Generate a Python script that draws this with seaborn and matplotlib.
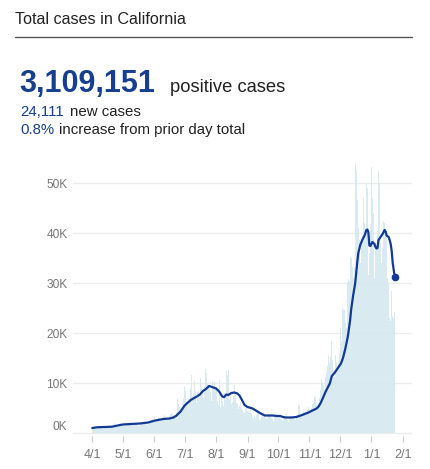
import numpy as np
import pandas as pd
import seaborn as sns
import matplotlib.pyplot as plt
from matplotlib.transforms import ScaledTranslation

# daily new cases (thousands), 2020-04-01 .. 2021-01-24
apr = [0.9, 1.2, 1.0, 1.3, 0.8, 1.1, 1.2, 1.2, 1.1, 1.4, 1.0, 0.9, 1.1, 1.3, 1.4,
       1.2, 1.1, 1.3, 1.0, 1.4, 1.5, 1.6, 2.0, 1.6, 1.2, 1.3, 1.5, 1.8, 1.6, 1.9]
may = [1.7, 1.8, 1.5, 1.4, 1.6, 2.1, 1.9, 2.2, 1.8, 1.6, 1.5, 1.7, 1.9, 2.0, 1.8, 1.6,
       1.5, 1.4, 1.9, 2.2, 2.1, 2.0, 2.3, 1.8, 1.7, 1.9, 2.4, 2.5, 2.6, 2.8, 2.4]
jun = [3.2, 2.5, 2.6, 2.8, 3.3, 3.0, 2.7, 2.5, 3.1, 3.3, 3.6, 2.9, 2.8, 2.6, 3.0,
       3.4, 3.8, 4.1, 3.9, 3.7, 3.2, 3.5, 4.3, 6.8, 5.9, 5.2, 4.8, 4.5, 5.8, 7.0]
jul = [9.4, 8.5, 6.4, 5.9, 5.4, 6.8, 9.0, 11.7, 7.5, 8.1, 10.4, 8.5, 6.0, 8.2, 8.4, 7.2,
       11.1, 9.2, 8.7, 7.1, 9.2, 12.8, 12.1, 10.0, 9.4, 8.3, 6.5, 10.4, 9.0, 10.2, 8.8]
aug = [9.2, 6.5, 5.6, 10.6, 5.2, 7.1, 6.4, 5.4, 8.0, 6.6, 12.5, 11.6, 12.7, 6.8, 8.0, 5.9,
       6.3, 7.5, 9.6, 7.8, 6.1, 5.8, 4.8, 5.5, 6.2, 5.1, 4.7, 4.3, 4.1, 5.0, 5.9]
sep = [4.4, 4.5, 4.0, 5.4, 4.0, 3.3, 2.8, 3.7, 3.1, 3.6, 4.2, 3.9, 2.6, 2.9, 3.2,
       3.6, 3.7, 3.4, 3.0, 2.8, 3.2, 3.9, 3.5, 3.4, 3.1, 2.9, 2.5, 3.6, 3.3, 3.5]
oct_ = [3.2, 3.4, 2.9, 2.8, 2.7, 3.1, 3.5, 3.3, 3.8, 2.6, 2.5, 3.0, 3.4, 3.2, 3.1, 3.0,
        2.8, 2.7, 3.2, 3.6, 5.8, 5.5, 3.9, 3.7, 4.0, 4.5, 4.2, 4.3, 3.9, 4.6, 5.2]
nov = [4.8, 4.6, 5.1, 5.9, 6.0, 7.5, 7.3, 5.6, 5.7, 6.1, 7.0, 8.7, 10.9, 10.0, 9.6,
       8.9, 11.2, 12.5, 13.5, 15.4, 14.1, 15.2, 18.4, 14.7, 12.5, 11.3, 15.6, 14.3, 13.0, 14.5]
dec = [16.1, 21.0, 18.4, 25.0, 24.6, 22.1, 21.0, 30.0, 30.9, 30.5, 35.5, 35.0, 33.2, 31.0,
       33.0, 54.0, 52.5, 46.6, 41.0, 38.6, 34.0, 38.7, 39.5, 47.1, 42.0, 40.5, 50.1, 49.0,
       31.7, 36.0, 41.9]
jan = [53.3, 47.0, 44.1, 31.0, 38.0, 37.5, 40.5, 52.5, 50.0, 38.0, 34.0, 37.0, 42.5, 42.0,
       41.0, 39.5, 31.0, 30.0, 23.0, 22.5, 28.5, 23.5, 23.0, 24.111]

# 7-day average (thousands), read at day offsets from 2020-04-01
avg_day = [0, 5, 12, 19, 25, 30, 38, 47, 55, 62, 70, 76, 80, 83, 87, 91, 97, 103, 106, 109,
           112, 115, 118, 122, 125, 128, 130, 132, 134, 137, 140, 143, 145, 148, 150, 153,
           158, 162, 166, 170, 175, 178, 182, 185, 188, 191, 196, 201, 204, 208, 213, 218,
           221, 223, 225, 227, 230, 234, 236, 239, 242, 245, 247, 249, 251, 252, 254, 255,
           257, 259, 261, 262, 264, 266, 268, 269, 270, 271, 272, 273, 274, 276, 278, 279,
           280, 281, 282, 284, 286, 288, 289, 290, 292, 293, 294, 295, 296, 298]
avg_val = [1.0, 1.15, 1.2, 1.25, 1.5, 1.7, 1.8, 1.9, 2.1, 2.5, 2.8, 2.9, 3.1, 3.5, 4.3, 5.5,
           6.6, 7.3, 7.7, 8.4, 8.8, 9.4, 9.2, 8.9, 8.3, 7.3, 7.2, 7.7, 7.6, 8.0, 8.1, 7.9,
           7.5, 6.4, 5.6, 5.2, 4.9, 4.4, 3.9, 3.5, 3.5, 3.5, 3.4, 3.4, 3.2, 3.1, 3.1, 3.2,
           3.4, 3.7, 4.1, 4.6, 4.9, 5.3, 6.0, 6.9, 8.3, 9.9, 11.4, 12.1, 13.0, 13.9, 15.0,
           16.6, 18.5, 19.6, 22.5, 24.6, 27.5, 29.9, 34.0, 35.9, 37.6, 38.6, 39.4, 39.9,
           40.6, 40.7, 40.2, 37.5, 37.4, 38.2, 37.8, 37.2, 36.9, 37.0, 38.6, 39.2, 39.8,
           40.6, 40.3, 39.5, 39.2, 38.6, 37.8, 36.4, 34.0, 31.2]

tick_labels = ['4/1', '5/1', '6/1', '7/1', '8/1', '9/1', '10/1', '11/1', '12/1', '1/1', '2/1']
y_ticks = [0, 10, 20, 30, 40, 50]

start = pd.Timestamp('2020-04-01')
daily = np.array(apr + may + jun + jul + aug + sep + oct_ + nov + dec + jan) * 1000
days = pd.date_range(start, periods=len(daily), freq='D')
avg = pd.DataFrame({'date': start + pd.to_timedelta(avg_day, unit='D'),
                    'cases': np.array(avg_val) * 1000})

blue = '#173f8f'
grey = '#777777'

sns.set_style('white')
plt.rcParams['font.family'] = ['Liberation Sans', 'DejaVu Sans']

fig = plt.figure(figsize=(4.3, 4.69), dpi=100)

fig.text(15 / 430, 1 - 19 / 469, 'Total cases in California', fontsize=11.6,
         color='#222222', va='center', ha='left')
fig.add_artist(plt.Line2D([15 / 430, 412 / 430], [1 - 37.5 / 469] * 2, color='#555555', lw=1))

fig.text(19 / 430, 1 - 91.7 / 469, '3,109,151', fontsize=22, fontweight='bold',
         color=blue, va='baseline', ha='left')
fig.text(170 / 430, 1 - 91.7 / 469, 'positive cases', fontsize=13.2,
         color='#222222', va='baseline', ha='left')
fig.text(20 / 430, 1 - 115.5 / 469, '24,111', fontsize=10.8, color=blue, va='baseline')
fig.text(70 / 430, 1 - 115.5 / 469, 'new cases', fontsize=10.8, color='#222222', va='baseline')
fig.text(20 / 430, 1 - 134 / 469, '0.8%', fontsize=10.8, color=blue, va='baseline')
fig.text(59 / 430, 1 - 134 / 469, 'increase from prior day total', fontsize=10.8,
         color='#222222', va='baseline')

ax = fig.add_axes([73 / 430, 1 - 436 / 469, 339 / 430, 278 / 469])
ax.bar(days, daily, width=1.0, color='#d6e8f0', alpha=0.9, linewidth=0)
sns.lineplot(data=avg, x='date', y='cases', ax=ax, color='#123a93', lw=1.6)
ax.plot(avg['date'].iloc[-1], avg['cases'].iloc[-1], 'o', color='#123a93', ms=4.5)

ax.set_xlim(start - pd.Timedelta(days=19), start + pd.Timedelta(days=315))
ax.set_ylim(-600, 55000)
ax.set_xlabel('')
ax.set_ylabel('')

months = pd.date_range('2020-04-01', periods=len(tick_labels), freq='MS')
ax.set_xticks(months)
ax.set_xticklabels(tick_labels)
ax.set_yticks([v * 1000 for v in y_ticks])
ax.set_yticklabels([f'{v}K' for v in y_ticks])
ax.grid(axis='y', color='#ececec', lw=1)
ax.set_axisbelow(True)
for s in ax.spines.values():
    s.set_visible(False)
ax.tick_params(axis='y', length=0, pad=4, labelsize=8.6, labelcolor=grey)
ax.tick_params(axis='x', length=4, width=0.8, color='#cccccc', pad=5,
               labelsize=9, labelcolor=grey, direction='out')
ax.xaxis.set_ticks_position('bottom')

# 0K label sits a little above the baseline
lab0 = ax.get_yticklabels()[0]
lab0.set_transform(lab0.get_transform() + ScaledTranslation(0, 0.08, fig.dpi_scale_trans))

fig.savefig('out.png', dpi=100)
